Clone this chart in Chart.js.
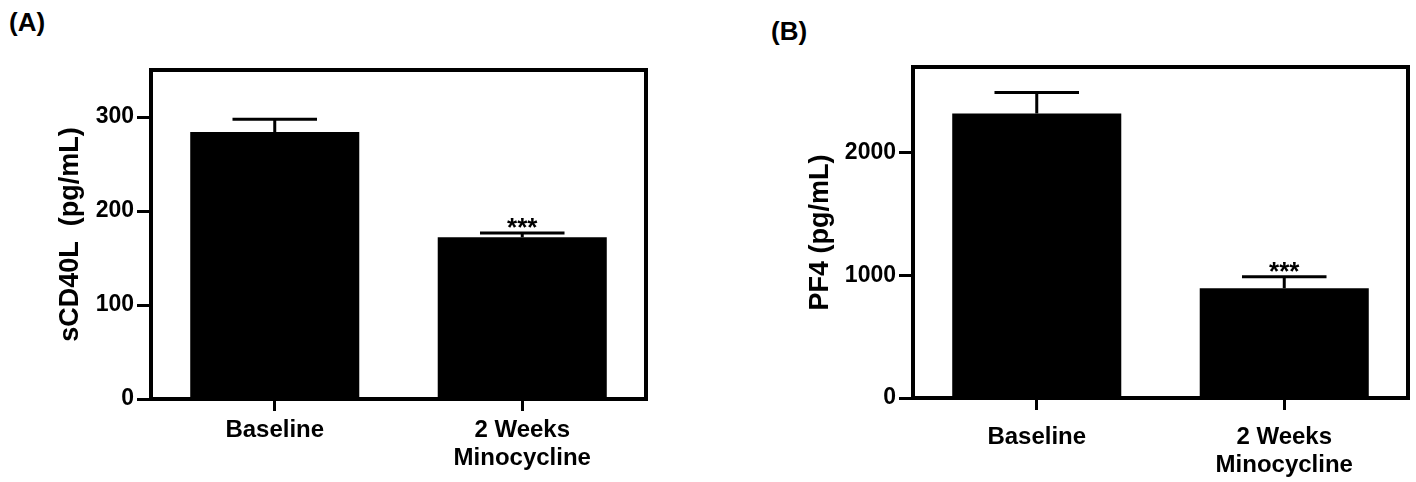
<!DOCTYPE html>
<html>
<head>
<meta charset="utf-8">
<script src="https://cdn.jsdelivr.net/npm/chart.js@4.4.1/dist/chart.umd.min.js"></script>
<style>
    body { margin: 0; background: #fff; width: 1416px; height: 482px; overflow: hidden; position: relative; font-family: "Liberation Sans", Arial, sans-serif; }
    canvas { position: absolute; top: 0; }
    #chartA { left: 0; }
    #chartB { left: 700px; }
    .panel { position: absolute; font-size: 26px; font-weight: bold; color: #000; line-height: 1; }
</style>
</head>
<body>
<div class="panel" style="left:9px; top:9px;">(A)</div>
<div class="panel" style="left:771px; top:18px;">(B)</div>
<canvas id="chartA" width="700" height="482"></canvas>
<canvas id="chartB" width="716" height="482"></canvas>
<script>
// data
const categories = ['Baseline', ['2 Weeks', 'Minocycline']];

const cd40Values = [284, 172];
const cd40Errors = [13.5, 4.5];
const cd40Stars = ['', '***'];
const cd40Ticks = [0, 100, 200, 300];

const pf4Values = [2320, 896];
const pf4Errors = [172, 93];
const pf4Stars = ['', '***'];
const pf4Ticks = [0, 1000, 2000];

const FONT = '"Liberation Sans", Arial, sans-serif';
Chart.defaults.font.family = FONT;
Chart.defaults.color = '#000';

// frame around plot area + error bars + significance stars
const panelPlugin = {
    id: 'panelPlugin',
    afterDatasetsDraw(chart, args, opts) {
        const ctx = chart.ctx;
        const yScale = chart.scales.y;
        const meta = chart.getDatasetMeta(0);
        ctx.save();
        ctx.strokeStyle = '#000';
        ctx.lineWidth = 3;
        meta.data.forEach((bar, i) => {
            const top = yScale.getPixelForValue(opts.values[i] + opts.errors[i]);
            const half = bar.width / 4;
            ctx.beginPath();
            ctx.moveTo(bar.x, bar.y);
            ctx.lineTo(bar.x, top);
            ctx.moveTo(bar.x - half, top);
            ctx.lineTo(bar.x + half, top);
            ctx.stroke();
            if (opts.stars[i]) {
                ctx.fillStyle = '#000';
                ctx.font = 'bold 26px ' + FONT;
                ctx.textAlign = 'center';
                ctx.textBaseline = 'alphabetic';
                ctx.fillText(opts.stars[i], bar.x, top + 3);
            }
        });
        const a = chart.chartArea;
        ctx.lineWidth = 4;
        ctx.strokeRect(a.left, a.top, a.right - a.left, a.bottom - a.top);
        ctx.restore();
    }
};

function makePanel(id, values, errors, stars, tickValues, opt) {
    return new Chart(document.getElementById(id), {
        type: 'bar',
        data: {
            labels: categories,
            datasets: [{
                data: values,
                backgroundColor: '#000',
                borderWidth: 0,
                categoryPercentage: 1,
                barPercentage: 0.683
            }]
        },
        options: {
            responsive: false,
            animation: false,
            devicePixelRatio: 1,
            layout: { padding: { top: opt.top, right: opt.right, left: 0, bottom: 0 } },
            plugins: {
                legend: { display: false },
                tooltip: { enabled: false },
                panelPlugin: { values: values, errors: errors, stars: stars }
            },
            scales: {
                x: {
                    offset: true,
                    border: { display: false },
                    grid: { display: true, offset: false, drawOnChartArea: false, tickLength: 12, tickWidth: 3, tickColor: '#000' },
                    ticks: { font: { size: 24, weight: 'bold', lineHeight: 1.17 }, color: '#000', padding: opt.xPad, maxRotation: 0 },
                    afterFit(scale) { scale.height = opt.xHeight; }
                },
                y: {
                    min: 0,
                    max: opt.max,
                    border: { display: false },
                    grid: { display: true, drawOnChartArea: false, tickLength: 14, tickWidth: 3, tickColor: '#000' },
                    ticks: {
                        autoSkip: false,
                        font: { size: 23, weight: 'bold' },
                        color: '#000',
                        padding: 3,
                        callback: v => String(v)
                    },
                    afterBuildTicks(scale) {
                        scale.ticks = tickValues.map(v => ({ value: v }));
                    },
                    title: {
                        display: true,
                        text: opt.title,
                        font: { size: 27, weight: 'bold' },
                        color: '#000',
                        padding: { top: opt.titlePad, bottom: 0 }
                    },
                    afterFit(scale) { scale.width = opt.yWidth; }
                }
            }
        },
        plugins: [panelPlugin]
    });
}

makePanel('chartA', cd40Values, cd40Errors, cd40Stars, cd40Ticks, {
    top: 70, right: 54, xHeight: 83, yWidth: 151, xPad: 5,
    max: 350, title: 'sCD40L  (pg/mL)', titlePad: 54
});

makePanel('chartB', pf4Values, pf4Errors, pf4Stars, pf4Ticks, {
    top: 67, right: 8, xHeight: 84, yWidth: 213, xPad: 13,
    max: 2700, title: 'PF4 (pg/mL)', titlePad: 104
});
</script>
</body>
</html>
